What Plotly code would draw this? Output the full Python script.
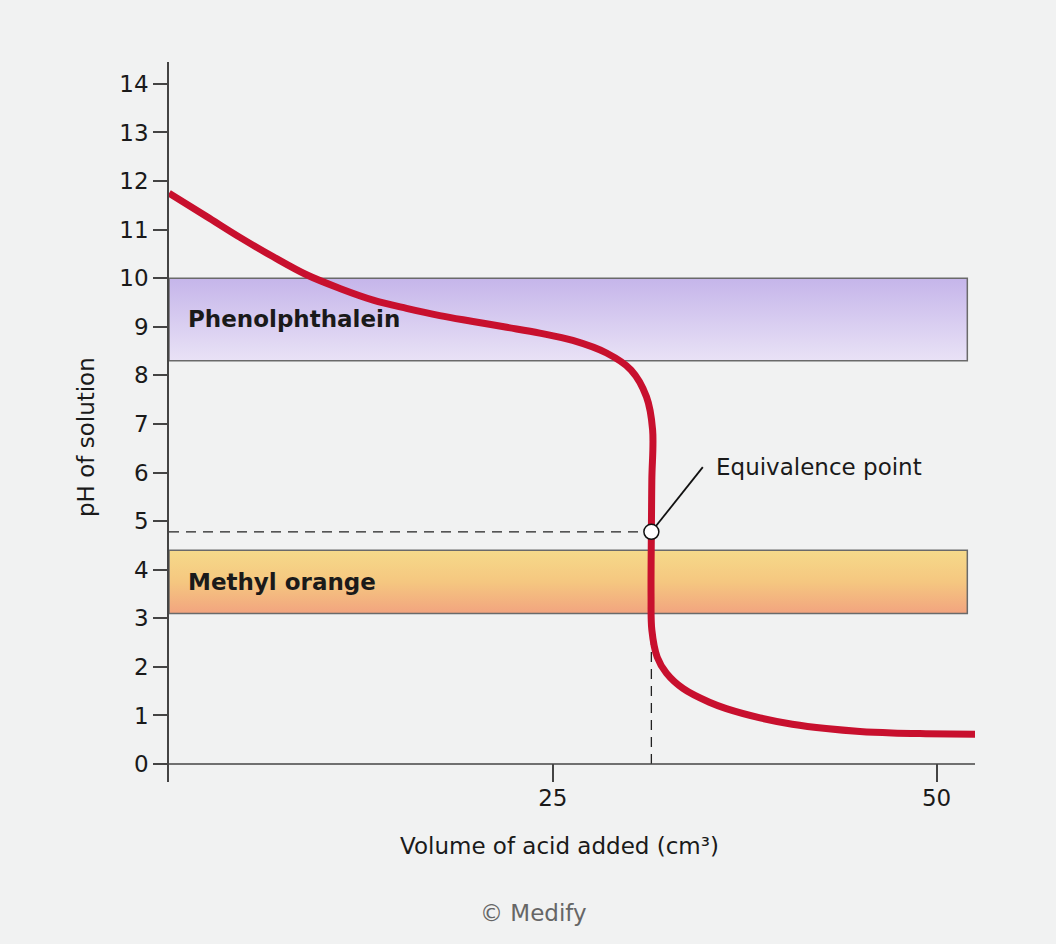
import plotly.graph_objects as go

# titration curve (volume in cm3, pH)
vol = [0, 2.45, 4.62, 6.79, 8.96, 11.13, 13.3, 15.47, 17.64, 19.8, 22.0, 24.15, 26.3,
       28.5, 30.1, 31.1, 31.5, 31.45, 31.42, 31.4, 31.45, 31.8, 32.4, 33.5, 35.2,
       36.3, 38.5, 40.6, 42.8, 45, 47.1, 49.3, 52.6]
ph = [11.75, 11.27, 10.84, 10.44, 10.07, 9.79, 9.55, 9.38, 9.23, 9.11, 8.99, 8.87,
      8.72, 8.46, 8.11, 7.56, 6.88, 5.85, 4.78, 3.44, 2.76, 2.2, 1.87, 1.55, 1.27,
      1.14, 0.95, 0.82, 0.73, 0.67, 0.64, 0.625, 0.61]

equiv_vol = 31.42
equiv_ph = 4.78

band_names = ["Phenolphthalein", "Methyl orange"]
band_low = [8.3, 3.1]
band_high = [10.0, 4.4]
band_end = 52
band_colors = [[[0, "#e9e2f6"], [1, "#c5b5ea"]],
               [[0, "#f2a47f"], [0.5, "#f5c780"], [1, "#f6da8a"]]]

yticks = list(range(0, 15))
xticks = [25, 50]
xmax = 52.5

FONT = "DejaVu Sans, Liberation Sans, sans-serif"
INK = "#1a1a1a"
BG = "#f1f2f2"

fig = go.Figure()

for name, lo, hi, cs in zip(band_names, band_low, band_high, band_colors):
    fig.add_trace(go.Scatter(
        x=[0, band_end, band_end, 0, 0], y=[lo, lo, hi, hi, lo],
        mode="lines", fill="toself",
        fillgradient=dict(type="vertical", colorscale=cs),
        line=dict(color="#6a6a6a", width=1.5),
        hoverinfo="skip", showlegend=False))
    fig.add_annotation(x=1.1, y=(lo + hi) / 2, text="<b>" + name + "</b>",
                       showarrow=False, xanchor="left", yanchor="middle",
                       font=dict(family=FONT, size=23, color=INK))

# dashed guide lines to the equivalence point
fig.add_trace(go.Scatter(x=[0, equiv_vol], y=[equiv_ph, equiv_ph], mode="lines",
                         line=dict(color="#222", width=1.3, dash="10px,7px"),
                         hoverinfo="skip", showlegend=False))
fig.add_trace(go.Scatter(x=[equiv_vol, equiv_vol], y=[0, equiv_ph], mode="lines",
                         line=dict(color="#222", width=1.3, dash="10px,7px"),
                         hoverinfo="skip", showlegend=False))

# x axis line at pH 0
fig.add_trace(go.Scatter(x=[0, xmax], y=[0, 0], mode="lines",
                         line=dict(color="#444", width=1.5),
                         hoverinfo="skip", showlegend=False))

fig.add_trace(go.Scatter(x=vol, y=ph, mode="lines",
                         line=dict(color="#c8102e", width=7, shape="spline", smoothing=1.0),
                         showlegend=False))

# leader line and marker
fig.add_trace(go.Scatter(x=[equiv_vol, equiv_vol + 3.35], y=[equiv_ph, equiv_ph + 1.33],
                         mode="lines", line=dict(color="#111", width=1.8),
                         hoverinfo="skip", showlegend=False))
fig.add_trace(go.Scatter(x=[equiv_vol], y=[equiv_ph], mode="markers",
                         marker=dict(size=15, color="white",
                                     line=dict(color="#111", width=1.5)),
                         showlegend=False))
fig.add_annotation(x=equiv_vol + 4.1, y=equiv_ph + 1.34, text="Equivalence point",
                   showarrow=False, xanchor="left", yanchor="middle",
                   font=dict(family=FONT, size=23, color=INK))

# axis titles and credit, placed in paper coordinates
fig.add_annotation(x=(559 - 169) / 806, y=(782 - 846) / 720, xref="paper", yref="paper",
                   text="Volume of acid added (cm³)", showarrow=False,
                   xanchor="center", yanchor="middle",
                   font=dict(family=FONT, size=23, color=INK))
fig.add_annotation(x=(86 - 169) / 806, y=(782 - 437) / 720, xref="paper", yref="paper",
                   text="pH of solution", showarrow=False, textangle=-90,
                   xanchor="center", yanchor="middle",
                   font=dict(family=FONT, size=23, color=INK))
fig.add_annotation(x=(533 - 169) / 806, y=(782 - 913) / 720, xref="paper", yref="paper",
                   text="© Medify", showarrow=False,
                   xanchor="center", yanchor="middle",
                   font=dict(family=FONT, size=23, color="#666"))

fig.update_layout(
    width=1056, height=944,
    margin=dict(l=169, r=81, t=62, b=162),
    paper_bgcolor=BG, plot_bgcolor=BG,
    font=dict(family=FONT, size=23, color=INK),
    xaxis=dict(range=[0, xmax], tickvals=xticks, ticks="inside", ticklen=18,
               tickwidth=1.5, tickcolor="#444", showline=False, showgrid=False,
               zeroline=False, tickfont=dict(size=23, color=INK)),
    yaxis=dict(range=[-0.37, 14.45], tickvals=yticks, ticks="outside", ticklen=14,
               tickwidth=1.5, tickcolor="#444", showline=True, linecolor="#444",
               linewidth=1.5, showgrid=False, zeroline=False,
               tickfont=dict(size=23, color=INK)),
)

fig.write_html("out.html", config={"displayModeBar": False},
               post_script="document.body.style.margin='0';"
                           "document.body.style.background='" + BG + "';")
